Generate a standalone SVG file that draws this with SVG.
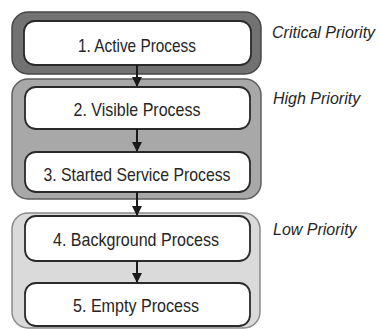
<svg xmlns="http://www.w3.org/2000/svg" width="379" height="329" viewBox="0 0 379 329">
  <defs>
    <marker id="arrow" viewBox="0 0 10 12" refX="9" refY="6" markerWidth="10" markerHeight="12" markerUnits="userSpaceOnUse" orient="auto">
      <path d="M0,1 L10,6 L0,11 Z" fill="#1a1a1a"/>
    </marker>
  </defs>
  <style>
    .box { fill: #ffffff; stroke: #2a2a2a; stroke-width: 1.8; }
    .label { font-family: "Liberation Sans", Arial, sans-serif; font-size: 19px; fill: #262626; text-anchor: middle; }
    .prio { font-family: "Liberation Sans", Arial, sans-serif; font-size: 16px; font-style: italic; fill: #262626; }
    .edge { stroke: #1a1a1a; stroke-width: 2; fill: none; marker-end: url(#arrow); }
  </style>
  <rect width="379" height="329" fill="#ffffff"/>

  <!-- priority bands -->
  <g id="band-critical">
    <rect x="12" y="12" width="249" height="62" rx="16" fill="#727272" stroke="#474747" stroke-width="1.5"/>
    <text class="prio" x="272" y="38">Critical Priority</text>
  </g>
  <g id="band-high">
    <rect x="12" y="79" width="249" height="120" rx="16" fill="#a8a8a8" stroke="#5e5e5e" stroke-width="1.5"/>
    <text class="prio" x="273" y="104">High Priority</text>
  </g>
  <g id="band-low">
    <rect x="12" y="213" width="248" height="115" rx="16" fill="#dadada" stroke="#8a8a8a" stroke-width="1.5"/>
    <text class="prio" x="273" y="235">Low Priority</text>
  </g>

  <!-- process nodes -->
  <g id="active">
    <rect class="box" x="24" y="21" width="227" height="44" rx="11"/>
    <text class="label" x="137" y="52" textLength="118" lengthAdjust="spacingAndGlyphs">1. Active Process</text>
  </g>
  <g id="visible">
    <rect class="box" x="25" y="87" width="225" height="42" rx="11"/>
    <text class="label" x="137" y="116" textLength="127" lengthAdjust="spacingAndGlyphs">2. Visible Process</text>
  </g>
  <g id="service">
    <rect class="box" x="25" y="152" width="225" height="40" rx="11"/>
    <text class="label" x="137" y="181" textLength="187" lengthAdjust="spacingAndGlyphs">3. Started Service Process</text>
  </g>
  <g id="background">
    <rect class="box" x="25" y="216" width="225" height="45" rx="11"/>
    <text class="label" x="136" y="246" textLength="166" lengthAdjust="spacingAndGlyphs">4. Background Process</text>
  </g>
  <g id="empty">
    <rect class="box" x="25" y="283" width="225" height="43" rx="11"/>
    <text class="label" x="136" y="312" textLength="126" lengthAdjust="spacingAndGlyphs">5. Empty Process</text>
  </g>

  <!-- connectors -->
  <g id="connectors">
    <line class="edge" x1="137" y1="65" x2="137" y2="86"/>
    <line class="edge" x1="137" y1="129" x2="137" y2="151"/>
    <line class="edge" x1="137" y1="192" x2="137" y2="215"/>
    <line class="edge" x1="137" y1="261" x2="137" y2="282"/>
  </g>
</svg>
